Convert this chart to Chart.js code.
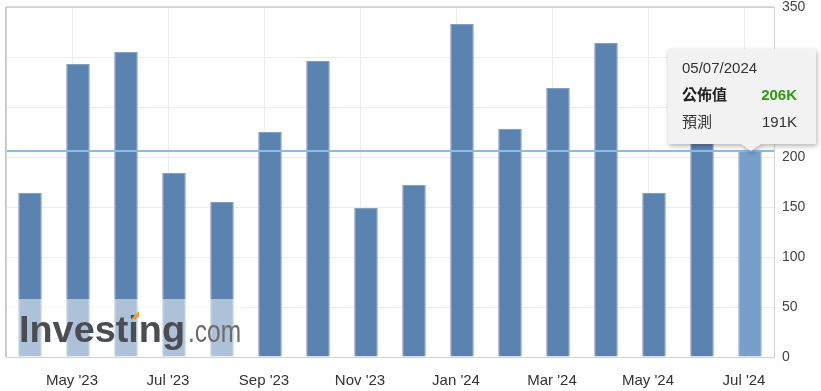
<!DOCTYPE html>
<html lang="zh-Hant">
<head>
    <meta charset="UTF-8">
    <script src="https://cdn.jsdelivr.net/npm/chart.js@4.4.0/dist/chart.umd.min.js"></script>
    <title>公佈值</title>
    <style>
        body { margin: 0; background: #fff; }
        #wrap { width: 821px; height: 391px; }
    </style>
</head>
<body>
<div id="wrap"><canvas id="chart" width="821" height="391"></canvas></div>

<script>
// one bar per monthly release
const months = ["Apr '23", "May '23", "Jun '23", "Jul '23", "Aug '23", "Sep '23", "Oct '23", "Nov '23",
                "Dec '23", "Jan '24", "Feb '24", "Mar '24", "Apr '24", "May '24", "Jun '24", "Jul '24"];
const actual = [164, 293, 305, 184, 155, 225, 296, 149, 172, 333, 228, 269, 314, 164, 218, 206];
const yTicks = [0, 50, 100, 150, 200, 250, 300, 350];

// tooltip of the latest release
const lastDate = '05/07/2024';
const lastActual = 206;
const lastForecast = 191;
const rowLabels = ['公佈值', '預測'];

const FONT = "'Liberation Sans', Arial, 'Noto Sans CJK TC', sans-serif";
const LABEL_SHIFT = -6;
const last = actual.length - 1;

function fitText(ctx, text, x, y, w) {
    const m = ctx.measureText(text).width;
    ctx.save();
    ctx.translate(x, y);
    ctx.scale(w / m, 1);
    ctx.fillText(text, 0, 0);
    ctx.restore();
}

const decor = {
    id: 'decor',
    beforeDatasetsDraw(chart) {
        const { ctx, chartArea: a, scales: { x } } = chart;
        ctx.save();
        ctx.strokeStyle = '#ececec';
        ctx.lineWidth = 1;
        for (let i = 1; i < months.length; i += 2) {
            const px = Math.round(x.getPixelForTick(i) + LABEL_SHIFT) + 0.5;
            ctx.beginPath();
            ctx.moveTo(px, a.top);
            ctx.lineTo(px, a.bottom);
            ctx.stroke();
        }
        ctx.restore();
    },
    afterDatasetsDraw(chart) {
        const { ctx, chartArea: a, scales: { y } } = chart;
        ctx.save();
        // level of latest value
        const ly = y.getPixelForValue(lastActual);
        ctx.strokeStyle = '#8cbbe9';
        ctx.lineWidth = 2;
        ctx.beginPath();
        ctx.moveTo(a.left, ly);
        ctx.lineTo(a.right, ly);
        ctx.stroke();

        // watermark
        ctx.fillStyle = 'rgba(255,255,255,0.5)';
        ctx.fillRect(a.left, a.bottom - 58, 239, 58);
        ctx.textBaseline = 'alphabetic';
        ctx.fillStyle = '#4a4e54';
        ctx.font = 'bold 36px ' + FONT;
        fitText(ctx, 'Investing', a.left + 13, a.bottom - 15, 166);
        ctx.fillStyle = '#f0a030';
        ctx.beginPath();
        ctx.moveTo(a.left + 126, a.bottom - 39);
        ctx.lineTo(a.left + 133, a.bottom - 46);
        ctx.lineTo(a.left + 133, a.bottom - 40);
        ctx.lineTo(a.left + 126, a.bottom - 37);
        ctx.closePath();
        ctx.fill();
        ctx.fillStyle = '#6c6c6c';
        ctx.font = '32px ' + FONT;
        fitText(ctx, '.com', a.left + 182, a.bottom - 15, 53);

        // frame
        ctx.strokeStyle = '#d2d2d2';
        ctx.lineWidth = 1;
        ctx.strokeRect(a.left + 0.5, a.top + 0.5, a.right - a.left, a.bottom - a.top);
        ctx.strokeStyle = '#dcdcdc';
        ctx.beginPath();
        ctx.moveTo(a.left, a.top - 0.5);
        ctx.lineTo(a.right, a.top - 0.5);
        ctx.stroke();
        ctx.strokeStyle = '#c4c4c4';
        ctx.beginPath();
        ctx.moveTo(a.left - 0.5, a.top);
        ctx.lineTo(a.left - 0.5, a.bottom);
        ctx.stroke();
        ctx.restore();
    },
    afterDraw(chart) {
        const { ctx } = chart;
        const el = chart.getDatasetMeta(0).data[last];
        const tip = Math.round(el.x) + 1;
        const bw = 148, bh = 95;
        const bx = Math.round(el.x) - 82;
        const by = Math.round(el.y) - 102;
        ctx.save();
        ctx.shadowColor = 'rgba(0,0,0,0.3)';
        ctx.shadowBlur = 5;
        ctx.shadowOffsetX = 1;
        ctx.shadowOffsetY = 2;
        ctx.fillStyle = '#f2f2f2';
        ctx.beginPath();
        ctx.moveTo(bx, by);
        ctx.lineTo(bx + bw, by);
        ctx.lineTo(bx + bw, by + bh);
        ctx.lineTo(tip + 10, by + bh);
        ctx.lineTo(tip, el.y);
        ctx.lineTo(tip - 10, by + bh);
        ctx.lineTo(bx, by + bh);
        ctx.closePath();
        ctx.fill();
        ctx.restore();

        ctx.save();
        ctx.textBaseline = 'middle';
        ctx.textAlign = 'left';
        ctx.fillStyle = '#333';
        ctx.font = '15px ' + FONT;
        ctx.fillText(lastDate, bx + 14, by + 20);
        ctx.fillStyle = '#222';
        ctx.font = 'bold 15px ' + FONT;
        ctx.fillText(rowLabels[0], bx + 14, by + 47);
        ctx.fillStyle = '#333';
        ctx.font = '15px ' + FONT;
        ctx.fillText(rowLabels[1], bx + 14, by + 74);
        ctx.textAlign = 'right';
        ctx.fillStyle = '#2a9d0a';
        ctx.font = 'bold 15px ' + FONT;
        ctx.fillText(lastActual + 'K', bx + bw - 19, by + 47);
        ctx.fillStyle = '#333';
        ctx.font = '15px ' + FONT;
        ctx.fillText(lastForecast + 'K', bx + bw - 19, by + 74);
        ctx.restore();
    }
};

const ctx = document.getElementById('chart').getContext('2d');
new Chart(ctx, {
    type: 'bar',
    data: {
        labels: months,
        datasets: [{
            data: actual,
            backgroundColor: actual.map((v, i) => i === last ? '#769fcb' : '#5b83b0'),
            borderColor: actual.map((v, i) => i === last ? '#8fb3da' : '#7f9fc4'),
            borderWidth: 1,
            borderSkipped: 'bottom',
            categoryPercentage: 1,
            barPercentage: 0.49
        }]
    },
    options: {
        responsive: false,
        animation: false,
        layout: { padding: { left: 6, top: 7, right: 0, bottom: 0 } },
        plugins: { legend: { display: false }, tooltip: { enabled: false } },
        scales: {
            x: {
                offset: true,
                grid: { display: false },
                border: { display: false },
                ticks: {
                    autoSkip: false,
                    maxRotation: 0,
                    padding: 7,
                    labelOffset: LABEL_SHIFT,
                    color: '#333',
                    font: { family: FONT, size: 15 },
                    callback: (v, i) => i % 2 === 1 ? months[i] : ''
                },
                afterFit: s => { s.height = 34; s.paddingLeft = 0; s.paddingRight = 0; }
            },
            y: {
                position: 'right',
                min: yTicks[0],
                max: yTicks[yTicks.length - 1],
                afterBuildTicks: s => { s.ticks = yTicks.map(v => ({ value: v })); },
                grid: { color: '#ececec', drawTicks: false },
                border: { display: false },
                ticks: {
                    padding: 8,
                    color: '#444',
                    font: { family: FONT, size: 14 }
                },
                afterFit: s => { s.width = 47; s.paddingTop = 0; s.paddingBottom = 0; }
            }
        }
    },
    plugins: [decor]
});
</script>
</body>
</html>
